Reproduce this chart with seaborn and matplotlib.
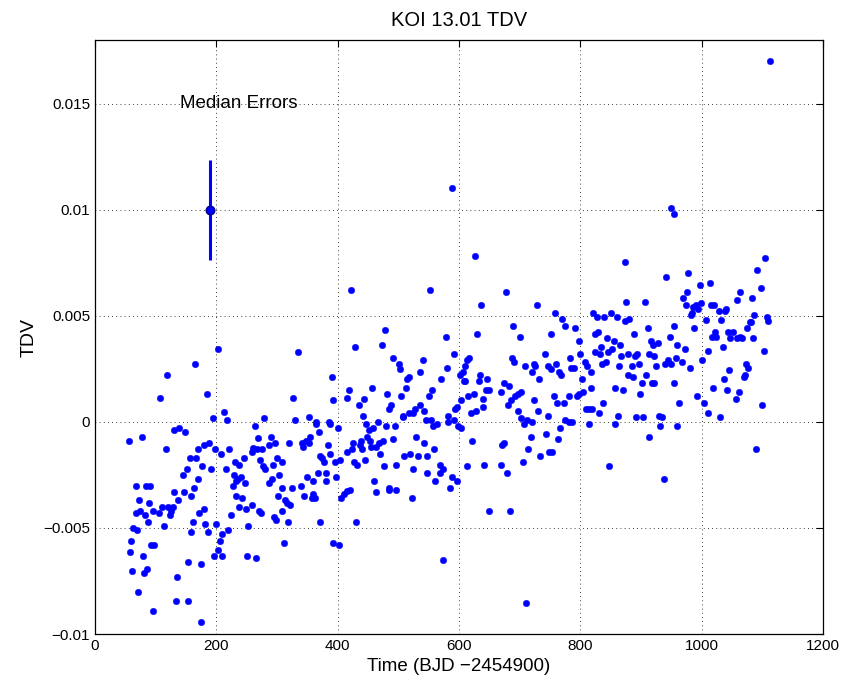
import matplotlib
matplotlib.use("Agg")
import matplotlib.pyplot as plt
import seaborn as sns
import pandas as pd

# time (BJD - 2454900) and TDV values
time = [
    203, 165,
    422, 552, 334, 478, 429, 473, 578, 492, 501, 503, 540, 592, 580,
    626, 873, 677, 636, 728, 876, 907, 758, 821, 827, 839, 850, 861, 770, 874, 881, 689, 774, 791, 911, 630,
    700, 751, 824, 829, 888, 844, 855, 798, 917, 920, 865, 834, 825, 832, 846, 852, 800, 742, 878, 894, 890,
    867, 913, 922, 687, 691, 783, 808, 811, 836, 842, 897, 613, 617, 610, 709, 723, 726, 747, 760, 785, 790,
    863, 885, 752,
    1105, 1091, 941, 978, 1098, 998, 1013, 976, 1064, 969, 1059, 1083, 975, 986, 990, 999, 994, 1015, 1021,
    1028, 1038, 1040, 982, 984, 1087, 1008, 1032, 1107, 1109, 1079, 1082, 955, 987, 1075, 1043, 1052, 1022,
    948, 1017, 1024, 1047, 1058, 1063, 1067, 1084, 928, 959, 1035, 973, 1011, 1102, 957, 968, 1001, 945, 940,
    950, 925, 980, 1073, 1077, 1045,
    119, 107, 184, 212, 195, 218, 279, 263, 130, 138, 149, 77, 56, 117, 268, 290, 297, 287, 180, 188, 198,
    207, 221, 261, 267, 275, 259, 170, 167, 157, 246, 300, 272, 230, 237, 293, 277, 281, 177, 191, 216, 151,
    145, 229, 240, 235, 233, 169, 292, 287, 227, 247, 163, 67, 84, 91,
    390, 327, 393, 418, 416, 457, 435, 443, 441, 482, 488, 484, 535, 518, 515, 571, 602, 606, 609, 512, 556,
    550, 504, 536, 527, 542, 517, 525, 507, 508, 545, 554, 558, 564, 582, 591, 582, 599, 604, 594, 597, 603,
    329, 352, 364, 365, 386, 387, 401, 447, 458, 452, 466, 480, 494, 369, 355, 348, 320, 341, 353, 343, 384,
    448, 438, 453, 425, 437, 455, 468, 475, 464, 491, 529, 543, 424, 415, 440, 559, 388, 470, 371, 374, 377,
    396, 404, 427, 432, 445, 510, 520, 533, 548, 308, 476, 497, 524, 569, 573, 568, 547, 304, 349, 368, 380,
    397, 359, 380, 460, 561, 589, 596, 309, 325, 339, 485, 586,
    610, 635, 633, 647, 720, 732, 765, 769, 802, 818, 879, 887, 909, 919, 902, 674, 682, 615, 624, 644, 650,
    640, 639, 619, 628, 670, 686, 680, 692, 697, 703, 724, 756, 762, 773, 781, 794, 798, 804, 817, 857, 871,
    899, 837, 698, 730, 746, 702, 712, 707, 721, 775, 781, 786, 809, 814, 819, 830, 862, 858, 814, 891, 904,
    914, 767, 744, 718, 763, 621, 675, 671, 714, 748, 754, 734, 706, 614, 642, 669, 679, 848,
    922, 954, 1037, 1070, 1072, 1019, 1041, 1061, 992, 1056, 962, 1004, 1099, 1010, 1030, 929, 934, 931, 960,
    1089, 938,
    73, 89, 131, 147, 158, 137, 68, 75, 82, 87, 95, 105, 110, 121, 128, 126, 123, 114, 171, 179, 162, 159,
    182, 186, 200, 63, 70, 59, 58, 79, 92, 98, 61, 86, 80, 71, 96, 133, 154, 135, 153, 175, 174, 196, 202,
    206, 210, 209, 220, 225, 232, 242, 238, 249, 259, 253, 251, 265, 270, 274, 295, 299, 302,
    308, 313, 316, 321, 318, 344, 360, 357, 362, 371, 311, 392, 403, 406, 410, 415, 420, 431, 463, 485, 496,
    522, 574,
    649, 684, 710,
    1112, 588, 950, 955,
]

tdv = [
    0.00342, 0.00272,
    0.00623, 0.00623, 0.00331, 0.00433, 0.00353, 0.00363, 0.00402, 0.00303, 0.00273, 0.00248, 0.00292,
    0.00322, 0.00253,
    0.00783, 0.00753, 0.00614, 0.00553, 0.00553, 0.00564, 0.00564, 0.00513, 0.00513, 0.00493, 0.00493,
    0.00513, 0.00493, 0.00483, 0.00474, 0.00483, 0.00452, 0.00452, 0.00443, 0.00443, 0.00413,
    0.00402, 0.00413, 0.00413, 0.00422, 0.00413, 0.00393, 0.00383, 0.00383, 0.00383, 0.00363, 0.00363,
    0.00352, 0.00331, 0.00322, 0.00331, 0.00342, 0.00322, 0.00322, 0.00322, 0.00322, 0.00312,
    0.00312, 0.00322, 0.00312, 0.00303, 0.00283, 0.00303, 0.00283, 0.00262, 0.00273, 0.00283, 0.00273,
    0.00292, 0.00301, 0.00264, 0.00262, 0.00273, 0.00262, 0.00262, 0.00273, 0.00253, 0.00253,
    0.00262, 0.00262, 0.00248,
    0.00774, 0.00714, 0.00683, 0.00703, 0.00632, 0.00644, 0.00653, 0.00612, 0.00612, 0.00582, 0.00573,
    0.00582, 0.00553, 0.00541, 0.00553, 0.00562, 0.00532, 0.00553, 0.00553,
    0.00523, 0.00523, 0.00532, 0.00502, 0.00512, 0.00502, 0.00482, 0.00482, 0.00493, 0.00477, 0.00472,
    0.00472, 0.00452, 0.00443, 0.00443, 0.00422, 0.00422, 0.00422,
    0.00402, 0.00402, 0.00402, 0.00393, 0.00393, 0.00402, 0.00393, 0.00393, 0.00372, 0.00363, 0.00353,
    0.00342, 0.00333, 0.00333, 0.00303, 0.00283, 0.00292, 0.00292, 0.00272,
    0.00272, 0.00262, 0.00253, 0.00272, 0.00253, 0.00245,
    0.00221, 0.00111, 0.00130, 0.00047, 0.00020, 0.00011, 0.00020, -0.00020, -0.00039, -0.00030, -0.00050,
    -0.00069, -0.00089, -0.00130, -0.00078, -0.00070, -0.00100, -0.00110, -0.00110, -0.00099, -0.00130,
    -0.00150, -0.00130, -0.00121, -0.00130, -0.00130, -0.00141, -0.00130, -0.00169, -0.00169, -0.00169,
    -0.00169, -0.00180, -0.00190, -0.00201, -0.00201, -0.00210, -0.00221, -0.00210, -0.00221, -0.00221,
    -0.00221, -0.00251, -0.00251, -0.00260, -0.00271, -0.00281, -0.00271, -0.00271, -0.00290, -0.00300,
    -0.00290, -0.00311, -0.00300, -0.00300, -0.00300,
    0.00210, 0.00111, 0.00101, 0.00151, 0.00111, 0.00160, 0.00080, 0.00110, 0.00030, 0.00130, 0.00080,
    0.00061, 0.00234, 0.00210, 0.00201, 0.00201, 0.00221, 0.00234, 0.00193, 0.00160, 0.00151,
    0.00121, 0.00121, 0.00080, 0.00061, 0.00052, 0.00041, 0.00041, 0.00030, 0.00021, 0.00011, 0.00011,
    -0.00020, -0.00009, 0.00030, 0.00011, 0.00000, -0.00020, -0.00030, 0.00061, 0.00071, 0.00101,
    0.00011, 0.00021, 0.00000, -0.00009, 0.00000, -0.00009, -0.00030, -0.00009, -0.00030, -0.00039,
    0.00000, -0.00020, -0.00020, -0.00050, -0.00069, -0.00089, -0.00099, -0.00099, -0.00099, -0.00119,
    -0.00110,
    -0.00069, -0.00089, -0.00089, -0.00099, -0.00110, -0.00119, -0.00099, -0.00089, -0.00119, -0.00080,
    -0.00069, -0.00099, -0.00130, -0.00140, -0.00130, -0.00130, -0.00150, -0.00150, -0.00160, -0.00169,
    -0.00190,
    -0.00190, -0.00180, -0.00190, -0.00201, -0.00180, -0.00160, -0.00150, -0.00160, -0.00160, -0.00191,
    -0.00210, -0.00201, -0.00221, -0.00201, -0.00221, -0.00240, -0.00240, -0.00251, -0.00260, -0.00240,
    -0.00240,
    -0.00260, -0.00281, -0.00281, -0.00281, -0.00281, -0.00260, -0.00281, -0.00311, -0.00311, -0.00300,
    -0.00311, -0.00311,
    0.00191, 0.00221, 0.00191, 0.00201, 0.00234, 0.00201, 0.00234, 0.00221, 0.00201, 0.00234, 0.00221,
    0.00210, 0.00221, 0.00181, 0.00181, 0.00181, 0.00171, 0.00121, 0.00130, 0.00151, 0.00151,
    0.00110, 0.00071, 0.00041, 0.00050, 0.00141, 0.00101, 0.00080, 0.00121, 0.00130, 0.00141, 0.00101,
    0.00121, 0.00091, 0.00091, 0.00121, 0.00121, 0.00130, 0.00141, 0.00160, 0.00160, 0.00151,
    0.00130, 0.00091, 0.00050, 0.00050, 0.00030, 0.00016, 0.00011, -0.00009, 0.00000, 0.00011, 0.00000,
    0.00000, 0.00061, 0.00061, 0.00061, 0.00041, 0.00030, -0.00009, -0.00009, 0.00021, 0.00021,
    -0.00069, -0.00030, -0.00059, -0.00069, -0.00080, -0.00089, -0.00099, -0.00110, -0.00130, -0.00140,
    -0.00140, -0.00160, -0.00190, -0.00210, -0.00201, -0.00201, -0.00240, -0.00210,
    0.00181, 0.00181, 0.00201, 0.00210, 0.00221, 0.00160, 0.00151, 0.00141, 0.00121, 0.00110, 0.00091,
    0.00091, 0.00080, 0.00041, 0.00023, 0.00030, 0.00021, -0.00020, -0.00020,
    -0.00130, -0.00270,
    -0.00370, -0.00381, -0.00330, -0.00330, -0.00350, -0.00370, -0.00430, -0.00420, -0.00441, -0.00471,
    -0.00420, -0.00430, -0.00400, -0.00400, -0.00400, -0.00420, -0.00441, -0.00490, -0.00430, -0.00411,
    -0.00471, -0.00521,
    -0.00480, -0.00521, -0.00480, -0.00500, -0.00512, -0.00562, -0.00612, -0.00631, -0.00580, -0.00580,
    -0.00701, -0.00692, -0.00712, -0.00802, -0.00893, -0.00843, -0.00843, -0.00733, -0.00662, -0.00672,
    -0.00943, -0.00631, -0.00603,
    -0.00562, -0.00530, -0.00631, -0.00512, -0.00441, -0.00350, -0.00361, -0.00400, -0.00411, -0.00391,
    -0.00490, -0.00631, -0.00642, -0.00420, -0.00430, -0.00450, -0.00461, -0.00350,
    -0.00420, -0.00370, -0.00383, -0.00391, -0.00472, -0.00350, -0.00341, -0.00361, -0.00361, -0.00472,
    -0.00571, -0.00571, -0.00582, -0.00361, -0.00341, -0.00325, -0.00320, -0.00472, -0.00331, -0.00320,
    -0.00320,
    -0.00361, -0.00651,
    -0.00420, -0.00420, -0.00854,
    0.0170, 0.0110, 0.0101, 0.0098,
]

# median error bar marker
err_x = [190]
err_y = [0.010]
err_size = [0.00235]

df = pd.DataFrame({"time": time, "tdv": tdv})

sns.set_style("white")
plt.rcParams["font.family"] = ["Liberation Sans", "DejaVu Sans"]
plt.rcParams["axes.unicode_minus"] = True
plt.rcParams["text.color"] = "black"
plt.rcParams["axes.labelcolor"] = "black"
plt.rcParams["xtick.color"] = "black"
plt.rcParams["ytick.color"] = "black"

fig = plt.figure(figsize=(8.42, 6.87), dpi=100)
ax = fig.add_axes([0.1128, 0.0771, 0.8646, 0.8647])

sns.scatterplot(data=df, x="time", y="tdv", ax=ax, color=(0, 0, 1), s=22,
                edgecolor=(0, 0, 1), linewidth=0.3, zorder=3)

ax.errorbar(err_x, err_y, yerr=err_size, fmt="o", color=(0, 0, 1), markersize=6,
            markeredgecolor=(0, 0, 0.6), markeredgewidth=1.2, elinewidth=2.2, capsize=0, zorder=4)
ax.text(140, 0.0150, "Median Errors", fontsize=13.5, ha="left", va="center")

ax.set_xlim(0, 1200)
ax.set_ylim(-0.01, 0.018)
ax.set_xticks([0, 200, 400, 600, 800, 1000, 1200])
ax.set_yticks([-0.01, -0.005, 0, 0.005, 0.01, 0.015])
ax.set_yticklabels(["\u22120.01", "\u22120.005", "0", "0.005", "0.01", "0.015"])
ax.tick_params(direction="in", top=True, right=True, labelsize=11, length=5, width=0.8)
ax.grid(True, linestyle=(0, (1, 4)), color="black", linewidth=0.6)
for sp in ax.spines.values():
    sp.set_color("black")
    sp.set_linewidth(0.9)

ax.set_xlabel("Time (BJD \u22122454900)", fontsize=13.5)
ax.set_ylabel("TDV", fontsize=14)
ax.set_title("KOI 13.01 TDV", fontsize=14.5, pad=10)

fig.savefig("out.png", dpi=100)
